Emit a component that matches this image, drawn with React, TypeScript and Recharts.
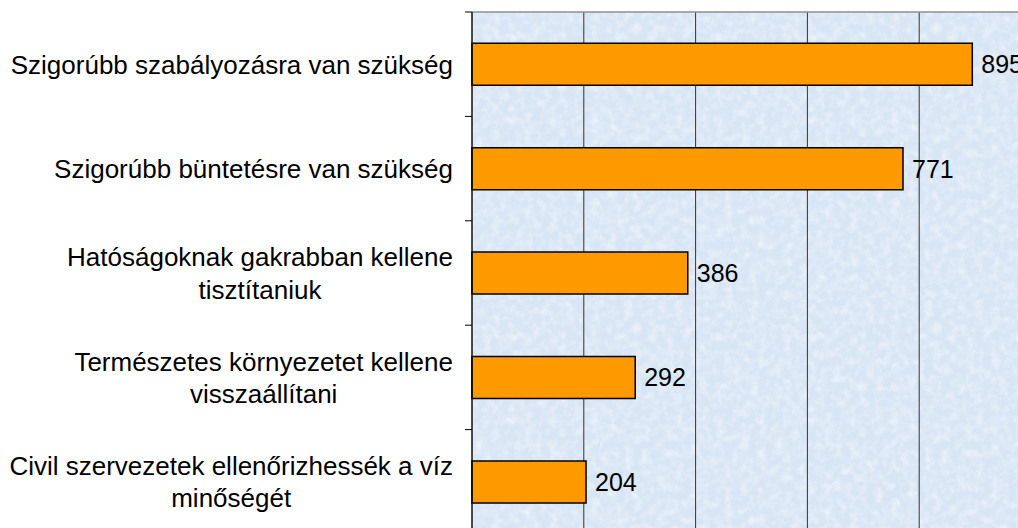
import React from 'react';
import { BarChart, Bar, XAxis, YAxis, CartesianGrid, LabelList } from 'recharts';

const categories = [
  'Szigorúbb szabályozásra van szükség',
  'Szigorúbb büntetésre van szükség',
  'Hatóságoknak gakrabban kellene\ntisztítaniuk',
  'Természetes környezetet kellene\nvisszaállítani',
  'Civil szervezetek ellenőrizhessék a víz\nminőségét',
];
const values = [895, 771, 386, 292, 204];
const xTicks = [0, 200, 400, 600, 800, 1000];

const data = categories.map((name, i) => ({ name, value: values[i] }));

const FONT = '"Liberation Sans", Arial, sans-serif';
const LABEL_SIZE = 26;
const VALUE_SIZE = 25;
const LINE_H = 32.5;
const AXIS_X = 472;
const PLOT_TOP = 12;
const PLOT_H = 522;
const BAND = PLOT_H / categories.length;

let ctx: CanvasRenderingContext2D | null = null;
const measure = (s: string) => {
  if (!ctx) {
    ctx = document.createElement('canvas').getContext('2d');
    if (ctx) ctx.font = `${LABEL_SIZE}px "Liberation Sans", Arial, sans-serif`;
  }
  return ctx ? ctx.measureText(s).width : s.length * 13;
};

// kategória felirat: többsoros, soronként középre zárt, a blokk jobbra zárt
const CategoryTick = (props: any) => {
  const { x, y, payload } = props;
  const lines: string[] = String(payload.value).split('\n');
  const widths = lines.map(measure);
  const blockW = Math.max(...widths);
  const startY = y - ((lines.length - 1) * LINE_H) / 2;
  return (
    <g>
      <line x1={AXIS_X - 7} x2={AXIS_X} y1={y - BAND / 2} y2={y - BAND / 2} stroke="#000" strokeWidth={1} />
      {lines.map((line, i) => (
        <text
          key={i}
          x={x - blockW / 2}
          y={startY + i * LINE_H}
          dy="0.36em"
          textAnchor="middle"
          fontFamily={FONT}
          fontSize={LABEL_SIZE}
          fill="#000"
        >
          {line}
        </text>
      ))}
    </g>
  );
};

const NoTick = () => <g />;

// halványkék, foltos háttér mintázat a rajzterülethez
const BackgroundDefs = () => (
  <svg width={0} height={0} style={{ position: 'absolute' }}>
    <defs>
      <filter id="texNoise" x="0" y="0" width="100%" height="100%">
        <feTurbulence type="fractalNoise" baseFrequency="0.12" numOctaves={3} seed={4} />
        <feColorMatrix type="matrix" values="0 0 0 0 1  0 0 0 0 1  0 0 0 0 1  1.0 0 0 0 -0.38" />
      </filter>
      <pattern id="plotTex" patternUnits="userSpaceOnUse" width={300} height={300}>
        <rect width={300} height={300} fill="#d7e5f4" />
        <rect width={300} height={300} filter="url(#texNoise)" />
      </pattern>
    </defs>
  </svg>
);

export default function App() {
  return (
    <div style={{ position: 'absolute', left: 0, top: 0, width: 1018, height: 528, overflow: 'hidden', background: '#fff' }}>
      <BackgroundDefs />
      <BarChart
        width={1040}
        height={540}
        data={data}
        layout="vertical"
        margin={{ top: PLOT_TOP - 1, right: 9, left: 0, bottom: 6 }}
        barCategoryGap="30%"
      >
        <CartesianGrid horizontal={false} vertical stroke="#333" strokeWidth={1} fill="url(#plotTex)" fillOpacity={1} />
        <XAxis
          type="number"
          orientation="top"
          domain={[0, 1000]}
          ticks={xTicks}
          interval={0}
          height={1}
          tick={<NoTick />}
          tickLine={false}
          axisLine={{ stroke: '#8f8f8f', strokeWidth: 1.5 }}
        />
        <YAxis
          type="category"
          dataKey="name"
          width={AXIS_X}
          tickLine={false}
          tickSize={7}
          tickMargin={12}
          interval={0}
          axisLine={{ stroke: '#000', strokeWidth: 1 }}
          tick={<CategoryTick />}
        />
        <Bar dataKey="value" fill="#ff9900" stroke="#000" strokeWidth={1.5} isAnimationActive={false}>
          <LabelList
            dataKey="value"
            position="right"
            offset={9}
            fill="#000"
            fontSize={VALUE_SIZE}
            fontFamily={FONT}
          />
        </Bar>
      </BarChart>
    </div>
  );
}
